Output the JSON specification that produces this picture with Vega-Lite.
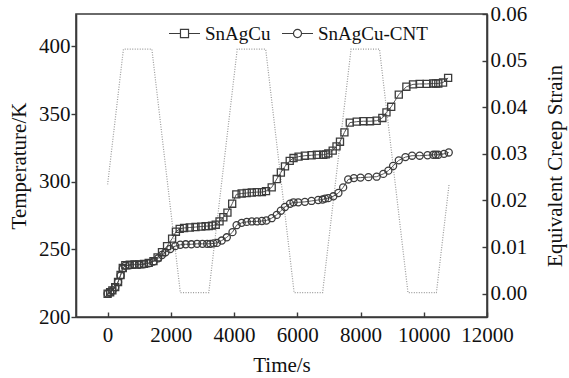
{
  "$schema": "https://vega.github.io/schema/vega-lite/v6.json",
  "width": 411,
  "height": 303,
  "autosize": {"type": "none"},
  "padding": {"left": 76, "top": 14, "right": 82, "bottom": 61},
  "background": "white",
  "config": {
    "font": "Liberation Serif",
    "view": {"stroke": "#3a3a3a", "strokeWidth": 1.6},
    "axis": {
      "labelFont": "Liberation Serif",
      "labelFontSize": 21,
      "labelColor": "#111",
      "labelOverlap": false,
      "labelFlush": false,
      "titleFont": "Liberation Serif",
      "titleFontSize": 21,
      "titleFontWeight": "normal",
      "titleColor": "#111",
      "domainColor": "#3a3a3a",
      "domainWidth": 1.6,
      "tickColor": "#3a3a3a",
      "tickWidth": 1.4,
      "grid": false
    },
    "legend": {
      "labelFont": "Liberation Serif"
    }
  },
  "datasets": {
    "temperature": [
      {"time": 0, "temp": 298},
      {"time": 500, "temp": 398},
      {"time": 1400, "temp": 398},
      {"time": 2300, "temp": 218},
      {"time": 3200, "temp": 218},
      {"time": 4100, "temp": 398},
      {"time": 5000, "temp": 398},
      {"time": 5900, "temp": 218},
      {"time": 6800, "temp": 218},
      {"time": 7700, "temp": 398},
      {"time": 8600, "temp": 398},
      {"time": 9500, "temp": 218},
      {"time": 10400, "temp": 218},
      {"time": 10800, "temp": 298}
    ],
    "strain": [
      {"series": "SnAgCu", "time": 0, "strain": 0.0000},
      {"series": "SnAgCu", "time": 80, "strain": 0.0003},
      {"series": "SnAgCu", "time": 150, "strain": 0.0007},
      {"series": "SnAgCu", "time": 240, "strain": 0.0014},
      {"series": "SnAgCu", "time": 330, "strain": 0.0025},
      {"series": "SnAgCu", "time": 410, "strain": 0.0040},
      {"series": "SnAgCu", "time": 480, "strain": 0.0055},
      {"series": "SnAgCu", "time": 560, "strain": 0.0061},
      {"series": "SnAgCu", "time": 700, "strain": 0.0062},
      {"series": "SnAgCu", "time": 850, "strain": 0.0063},
      {"series": "SnAgCu", "time": 1000, "strain": 0.0063},
      {"series": "SnAgCu", "time": 1150, "strain": 0.0064},
      {"series": "SnAgCu", "time": 1300, "strain": 0.0066},
      {"series": "SnAgCu", "time": 1450, "strain": 0.0070},
      {"series": "SnAgCu", "time": 1580, "strain": 0.0078},
      {"series": "SnAgCu", "time": 1720, "strain": 0.0089},
      {"series": "SnAgCu", "time": 1880, "strain": 0.0102},
      {"series": "SnAgCu", "time": 2040, "strain": 0.0118},
      {"series": "SnAgCu", "time": 2160, "strain": 0.0133},
      {"series": "SnAgCu", "time": 2280, "strain": 0.0139},
      {"series": "SnAgCu", "time": 2420, "strain": 0.0141},
      {"series": "SnAgCu", "time": 2600, "strain": 0.0142},
      {"series": "SnAgCu", "time": 2780, "strain": 0.0143},
      {"series": "SnAgCu", "time": 2960, "strain": 0.0144},
      {"series": "SnAgCu", "time": 3100, "strain": 0.0145},
      {"series": "SnAgCu", "time": 3200, "strain": 0.0145},
      {"series": "SnAgCu", "time": 3300, "strain": 0.0146},
      {"series": "SnAgCu", "time": 3420, "strain": 0.0148},
      {"series": "SnAgCu", "time": 3540, "strain": 0.0155},
      {"series": "SnAgCu", "time": 3660, "strain": 0.0164},
      {"series": "SnAgCu", "time": 3790, "strain": 0.0174},
      {"series": "SnAgCu", "time": 3940, "strain": 0.0193},
      {"series": "SnAgCu", "time": 4070, "strain": 0.0213},
      {"series": "SnAgCu", "time": 4240, "strain": 0.0215},
      {"series": "SnAgCu", "time": 4400, "strain": 0.0216},
      {"series": "SnAgCu", "time": 4560, "strain": 0.0217},
      {"series": "SnAgCu", "time": 4720, "strain": 0.0218},
      {"series": "SnAgCu", "time": 4880, "strain": 0.0218},
      {"series": "SnAgCu", "time": 5010, "strain": 0.0220},
      {"series": "SnAgCu", "time": 5190, "strain": 0.0228},
      {"series": "SnAgCu", "time": 5350, "strain": 0.0246},
      {"series": "SnAgCu", "time": 5480, "strain": 0.0260},
      {"series": "SnAgCu", "time": 5610, "strain": 0.0273},
      {"series": "SnAgCu", "time": 5760, "strain": 0.0285},
      {"series": "SnAgCu", "time": 5880, "strain": 0.0291},
      {"series": "SnAgCu", "time": 6040, "strain": 0.0294},
      {"series": "SnAgCu", "time": 6240, "strain": 0.0296},
      {"series": "SnAgCu", "time": 6450, "strain": 0.0297},
      {"series": "SnAgCu", "time": 6620, "strain": 0.0298},
      {"series": "SnAgCu", "time": 6820, "strain": 0.0298},
      {"series": "SnAgCu", "time": 6900, "strain": 0.0299},
      {"series": "SnAgCu", "time": 6980, "strain": 0.0301},
      {"series": "SnAgCu", "time": 7120, "strain": 0.0307},
      {"series": "SnAgCu", "time": 7240, "strain": 0.0316},
      {"series": "SnAgCu", "time": 7350, "strain": 0.0326},
      {"series": "SnAgCu", "time": 7490, "strain": 0.0346},
      {"series": "SnAgCu", "time": 7660, "strain": 0.0367},
      {"series": "SnAgCu", "time": 7880, "strain": 0.0369},
      {"series": "SnAgCu", "time": 8090, "strain": 0.0370},
      {"series": "SnAgCu", "time": 8300, "strain": 0.0370},
      {"series": "SnAgCu", "time": 8510, "strain": 0.0371},
      {"series": "SnAgCu", "time": 8690, "strain": 0.0377},
      {"series": "SnAgCu", "time": 8820, "strain": 0.0389},
      {"series": "SnAgCu", "time": 8970, "strain": 0.0401},
      {"series": "SnAgCu", "time": 9210, "strain": 0.0427},
      {"series": "SnAgCu", "time": 9450, "strain": 0.0444},
      {"series": "SnAgCu", "time": 9660, "strain": 0.0449},
      {"series": "SnAgCu", "time": 9870, "strain": 0.0450},
      {"series": "SnAgCu", "time": 10090, "strain": 0.0450},
      {"series": "SnAgCu", "time": 10300, "strain": 0.0451},
      {"series": "SnAgCu", "time": 10380, "strain": 0.0451},
      {"series": "SnAgCu", "time": 10460, "strain": 0.0451},
      {"series": "SnAgCu", "time": 10610, "strain": 0.0453},
      {"series": "SnAgCu", "time": 10770, "strain": 0.0463},
      {"series": "SnAgCu-CNT", "time": 0, "strain": 0.0000},
      {"series": "SnAgCu-CNT", "time": 80, "strain": 0.0003},
      {"series": "SnAgCu-CNT", "time": 150, "strain": 0.0007},
      {"series": "SnAgCu-CNT", "time": 240, "strain": 0.0014},
      {"series": "SnAgCu-CNT", "time": 330, "strain": 0.0025},
      {"series": "SnAgCu-CNT", "time": 410, "strain": 0.0039},
      {"series": "SnAgCu-CNT", "time": 480, "strain": 0.0054},
      {"series": "SnAgCu-CNT", "time": 560, "strain": 0.0060},
      {"series": "SnAgCu-CNT", "time": 700, "strain": 0.0061},
      {"series": "SnAgCu-CNT", "time": 850, "strain": 0.0062},
      {"series": "SnAgCu-CNT", "time": 1000, "strain": 0.0062},
      {"series": "SnAgCu-CNT", "time": 1150, "strain": 0.0063},
      {"series": "SnAgCu-CNT", "time": 1300, "strain": 0.0065},
      {"series": "SnAgCu-CNT", "time": 1450, "strain": 0.0069},
      {"series": "SnAgCu-CNT", "time": 1600, "strain": 0.0076},
      {"series": "SnAgCu-CNT", "time": 1720, "strain": 0.0083},
      {"series": "SnAgCu-CNT", "time": 1830, "strain": 0.0089},
      {"series": "SnAgCu-CNT", "time": 1980, "strain": 0.0096},
      {"series": "SnAgCu-CNT", "time": 2140, "strain": 0.0102},
      {"series": "SnAgCu-CNT", "time": 2300, "strain": 0.0105},
      {"series": "SnAgCu-CNT", "time": 2470, "strain": 0.0106},
      {"series": "SnAgCu-CNT", "time": 2650, "strain": 0.0106},
      {"series": "SnAgCu-CNT", "time": 2830, "strain": 0.0107},
      {"series": "SnAgCu-CNT", "time": 3000, "strain": 0.0107},
      {"series": "SnAgCu-CNT", "time": 3150, "strain": 0.0107},
      {"series": "SnAgCu-CNT", "time": 3250, "strain": 0.0107},
      {"series": "SnAgCu-CNT", "time": 3350, "strain": 0.0108},
      {"series": "SnAgCu-CNT", "time": 3460, "strain": 0.0109},
      {"series": "SnAgCu-CNT", "time": 3610, "strain": 0.0114},
      {"series": "SnAgCu-CNT", "time": 3770, "strain": 0.0121},
      {"series": "SnAgCu-CNT", "time": 3950, "strain": 0.0132},
      {"series": "SnAgCu-CNT", "time": 4080, "strain": 0.0147},
      {"series": "SnAgCu-CNT", "time": 4240, "strain": 0.0152},
      {"series": "SnAgCu-CNT", "time": 4400, "strain": 0.0154},
      {"series": "SnAgCu-CNT", "time": 4560, "strain": 0.0155},
      {"series": "SnAgCu-CNT", "time": 4720, "strain": 0.0155},
      {"series": "SnAgCu-CNT", "time": 4880, "strain": 0.0156},
      {"series": "SnAgCu-CNT", "time": 5020, "strain": 0.0157},
      {"series": "SnAgCu-CNT", "time": 5190, "strain": 0.0162},
      {"series": "SnAgCu-CNT", "time": 5350, "strain": 0.0169},
      {"series": "SnAgCu-CNT", "time": 5480, "strain": 0.0178},
      {"series": "SnAgCu-CNT", "time": 5610, "strain": 0.0186},
      {"series": "SnAgCu-CNT", "time": 5770, "strain": 0.0193},
      {"series": "SnAgCu-CNT", "time": 5880, "strain": 0.0196},
      {"series": "SnAgCu-CNT", "time": 6030, "strain": 0.0196},
      {"series": "SnAgCu-CNT", "time": 6240, "strain": 0.0197},
      {"series": "SnAgCu-CNT", "time": 6450, "strain": 0.0199},
      {"series": "SnAgCu-CNT", "time": 6660, "strain": 0.0201},
      {"series": "SnAgCu-CNT", "time": 6800, "strain": 0.0202},
      {"series": "SnAgCu-CNT", "time": 6880, "strain": 0.0204},
      {"series": "SnAgCu-CNT", "time": 6980, "strain": 0.0205},
      {"series": "SnAgCu-CNT", "time": 7140, "strain": 0.0209},
      {"series": "SnAgCu-CNT", "time": 7300, "strain": 0.0216},
      {"series": "SnAgCu-CNT", "time": 7450, "strain": 0.0228},
      {"series": "SnAgCu-CNT", "time": 7610, "strain": 0.0245},
      {"series": "SnAgCu-CNT", "time": 7790, "strain": 0.0248},
      {"series": "SnAgCu-CNT", "time": 8000, "strain": 0.0249},
      {"series": "SnAgCu-CNT", "time": 8250, "strain": 0.0250},
      {"series": "SnAgCu-CNT", "time": 8510, "strain": 0.0251},
      {"series": "SnAgCu-CNT", "time": 8720, "strain": 0.0257},
      {"series": "SnAgCu-CNT", "time": 8880, "strain": 0.0264},
      {"series": "SnAgCu-CNT", "time": 9030, "strain": 0.0274},
      {"series": "SnAgCu-CNT", "time": 9210, "strain": 0.0286},
      {"series": "SnAgCu-CNT", "time": 9420, "strain": 0.0293},
      {"series": "SnAgCu-CNT", "time": 9630, "strain": 0.0296},
      {"series": "SnAgCu-CNT", "time": 9870, "strain": 0.0296},
      {"series": "SnAgCu-CNT", "time": 10120, "strain": 0.0297},
      {"series": "SnAgCu-CNT", "time": 10300, "strain": 0.0298},
      {"series": "SnAgCu-CNT", "time": 10380, "strain": 0.0298},
      {"series": "SnAgCu-CNT", "time": 10460, "strain": 0.0298},
      {"series": "SnAgCu-CNT", "time": 10640, "strain": 0.0300},
      {"series": "SnAgCu-CNT", "time": 10790, "strain": 0.0303}
    ]
  },
  "layer": [
    {
      "data": {"name": "temperature"},
      "mark": {"type": "line", "color": "#9a9a9a", "strokeWidth": 1.2, "strokeDash": [1, 1.5]},
      "encoding": {
        "x": {
          "field": "time", "type": "quantitative",
          "scale": {"domain": [-1000, 12000], "nice": false, "zero": false},
          "axis": {
            "title": "Time/s",
            "values": [0, 2000, 4000, 6000, 8000, 10000, 12000],
            "format": "d",
            "tickSize": -5,
            "labelPadding": 12,
            "titlePadding": 9
          }
        },
        "y": {
          "field": "temp", "type": "quantitative",
          "scale": {"domain": [200, 424], "nice": false, "zero": false},
          "axis": {
            "title": "Temperature/K",
            "orient": "left",
            "values": [200, 250, 300, 350, 400],
            "tickSize": 5,
            "labelPadding": 1,
            "titlePadding": 9
          }
        }
      }
    },
    {
      "data": {"name": "strain"},
      "encoding": {
        "x": {"field": "time", "type": "quantitative"},
        "y": {
          "field": "strain", "type": "quantitative",
          "scale": {"domain": [-0.005, 0.06], "nice": false, "zero": false},
          "axis": {
            "title": "Equivalent Creep Strain",
            "orient": "right",
            "values": [0, 0.01, 0.02, 0.03, 0.04, 0.05, 0.06],
            "format": ".2f",
            "tickSize": -5,
            "labelPadding": 8,
            "titleAngle": 270,
            "titleBaseline": "top",
            "titlePadding": 18
          }
        }
      },
      "layer": [
        {
          "mark": {"type": "line", "color": "#555", "strokeWidth": 1},
          "encoding": {"detail": {"field": "series"}}
        },
        {
          "mark": {"type": "point", "filled": false, "color": "#3c3c3c", "strokeWidth": 1.3, "size": 50, "opacity": 1},
          "encoding": {
            "shape": {
              "field": "series", "type": "nominal",
              "scale": {"domain": ["SnAgCu", "SnAgCu-CNT"], "range": ["square", "circle"]},
              "legend": null
            }
          }
        },
        {
          "transform": [{"filter": "datum.time < 0"}],
          "mark": {"type": "point", "filled": false, "color": "#3c3c3c", "strokeWidth": 1.2},
          "encoding": {
            "shape": {
              "field": "series", "type": "nominal",
              "scale": {
                "domain": ["SnAgCu", "SnAgCu-CNT"],
                "range": [
                  "M-1,0H-0.26M0.26,0H1M-0.26,-0.26H0.26V0.26H-0.26Z",
                  "M-1,0H-0.26M0.26,0H1M-0.26,0A0.26,0.26 0 1,0 0.26,0A0.26,0.26 0 1,0 -0.26,0"
                ]
              },
              "legend": {
                "title": null,
                "orient": "none",
                "legendX": 92,
                "legendY": 3,
                "direction": "horizontal",
                "gridAlign": "none",
                "symbolSize": 961,
                "symbolStrokeWidth": 1.2,
                "symbolStrokeColor": "#3c3c3c",
                "symbolOpacity": 1,
                "labelFont": "Liberation Serif",
                "labelFontSize": 19,
                "labelColor": "#111",
                "labelOffset": 4,
                "columnPadding": 8,
                "padding": 0
              }
            }
          }
        }
      ],
      "resolve": {"scale": {"shape": "independent"}}
    }
  ],
  "resolve": {"scale": {"y": "independent"}}
}
